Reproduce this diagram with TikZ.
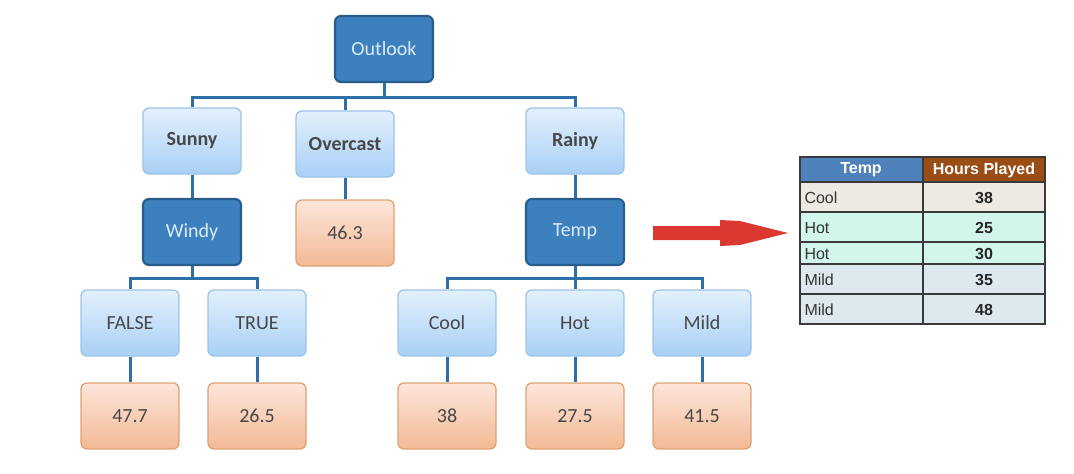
\documentclass[tikz,border=0pt]{standalone}
\usepackage{fontspec}
\setmainfont{Carlito}
\newfontfamily\arialf{Liberation Sans}
\begin{document}
\begin{tikzpicture}[x=1pt,y=-1pt,
  box/.style={rounded corners=6pt, minimum width=98pt, minimum height=66pt, line width=1.3pt, inner sep=0pt,
     font=\fontsize{20}{24}\selectfont, text=black!72},
  lblue/.style={box, draw=lbord, top color=ltop, bottom color=lbot},
  lbold/.style={lblue, font=\bfseries\fontsize{20}{24}\selectfont},
  dark/.style={box, draw=dbord, fill=dfill, line width=2.2pt, text=dtext},
  leaf/.style={box, draw=obord, top color=otop, bottom color=obot},
  conn/.style={draw=conncol, line width=3pt},
  cell/.style={font=\arialf\fontsize{16}{18}\selectfont, text=black!80, anchor=west},
  num/.style={font=\arialf\bfseries\fontsize{16}{18}\selectfont, text=black!85},
  hdr/.style={font=\arialf\bfseries\fontsize{16}{18}\selectfont, text=white}]
\definecolor{ltop}{HTML}{E3F0FC}
\definecolor{lbot}{HTML}{A8D0F6}
\definecolor{lbord}{HTML}{9CC4E8}
\definecolor{dfill}{HTML}{3C80BE}
\definecolor{dbord}{HTML}{285D8E}
\definecolor{dtext}{HTML}{DCEBF8}
\definecolor{otop}{HTML}{FCE6DA}
\definecolor{obot}{HTML}{F3B995}
\definecolor{obord}{HTML}{DEA274}
\definecolor{conncol}{HTML}{2F6FA8}
\definecolor{arrowred}{HTML}{DA3831}
\definecolor{thblue}{HTML}{4F81BD}
\definecolor{thbrown}{HTML}{9B4D16}
\definecolor{rcool}{HTML}{EEEAE1}
\definecolor{rhot}{HTML}{D2F6EB}
\definecolor{rmild}{HTML}{DDE8EF}
\definecolor{tline}{HTML}{3A3A3A}
\useasboundingbox (0,0) rectangle (1074,474);

% tree nodes
\node[dark]  (outlook)  at (384,49)  {Outlook};
\node[lbold] (sunny)    at (192,141) {Sunny};
\node[lbold] (overcast) at (345,144) {Overcast};
\node[lbold] (rainy)    at (575,141) {Rainy};
\node[dark]  (windy)    at (192,232) {Windy};
\node[leaf]  (v463)     at (345,233) {46.3};
\node[dark]  (temp)     at (575,232) {Temp};
\node[lblue] (false)    at (130,323) {FALSE};
\node[lblue] (true)     at (257,323) {TRUE};
\node[lblue] (cool)     at (447,323) {Cool};
\node[lblue] (hot)      at (575,323) {Hot};
\node[lblue] (mild)     at (702,323) {Mild};
\node[leaf]  (v477)     at (130,416) {47.7};
\node[leaf]  (v265)     at (257,416) {26.5};
\node[leaf]  (v38)      at (447,416) {38};
\node[leaf]  (v275)     at (575,416) {27.5};
\node[leaf]  (v415)     at (702,416) {41.5};

% connectors
\coordinate (j1) at (384,97);
\coordinate (j2) at (192,278);
\coordinate (j3) at (575,278);
\draw[conn] (outlook.south) -- (j1);
\draw[conn] (j1) -| (sunny.north);
\draw[conn] (j1) -| (overcast.north);
\draw[conn] (j1) -| (rainy.north);
\draw[conn] (sunny.south) -- (windy.north);
\draw[conn] (overcast.south) -- (v463.north);
\draw[conn] (rainy.south) -- (temp.north);
\draw[conn] (windy.south) -- (j2);
\draw[conn] (j2) -| (false.north);
\draw[conn] (j2) -| (true.north);
\draw[conn] (temp.south) -- (j3);
\draw[conn] (j3) -| (cool.north);
\draw[conn] (j3) -| (hot.north);
\draw[conn] (j3) -| (mild.north);
\draw[conn] (false.south) -- (v477.north);
\draw[conn] (true.south) -- (v265.north);
\draw[conn] (cool.south) -- (v38.north);
\draw[conn] (hot.south) -- (v275.north);
\draw[conn] (mild.south) -- (v415.north);

% red arrow
\fill[arrowred] (653,226) -- (720,226) -- (720,220) -- (740,221) -- (760,226) -- (788,233)
  -- (760,240) -- (740,245) -- (720,246) -- (720,240) -- (653,240) -- cycle;

% table
\fill[thblue]  (800,157) rectangle (923,182);
\fill[thbrown] (923,157) rectangle (1045,182);
\fill[rcool] (800,182) rectangle (1045,211);
\fill[rhot]  (800,211) rectangle (1045,263);
\fill[rmild] (800,263) rectangle (1045,324);
\draw[tline, line width=1.2pt] (800,182) -- (1045,182);
\draw[tline, line width=2pt] (800,212) -- (1045,212);
\draw[tline, line width=2pt] (800,242) -- (1045,242);
\draw[tline, line width=2pt] (800,264) -- (1045,264);
\draw[tline, line width=2pt] (800,294) -- (1045,294);
\draw[tline, line width=1.5pt] (923,157) -- (923,324);
\draw[tline, line width=2pt] (800,157) rectangle (1045,324);

\node[hdr] (th1) at (861,170) {Temp};
\node[hdr] (th2) at (984,170) {Hours Played};
\node[cell] (c1) at (801,198) {Cool};
\node[cell] (c2) at (801,228) {Hot};
\node[cell] (c3) at (801,254) {Hot};
\node[cell] (c4) at (801,280) {Mild};
\node[cell] (c5) at (801,310) {Mild};
\node[num] (n1) at (984,198) {38};
\node[num] (n2) at (984,228) {25};
\node[num] (n3) at (984,254) {30};
\node[num] (n4) at (984,280) {35};
\node[num] (n5) at (984,310) {48};
\end{tikzpicture}
\end{document}
